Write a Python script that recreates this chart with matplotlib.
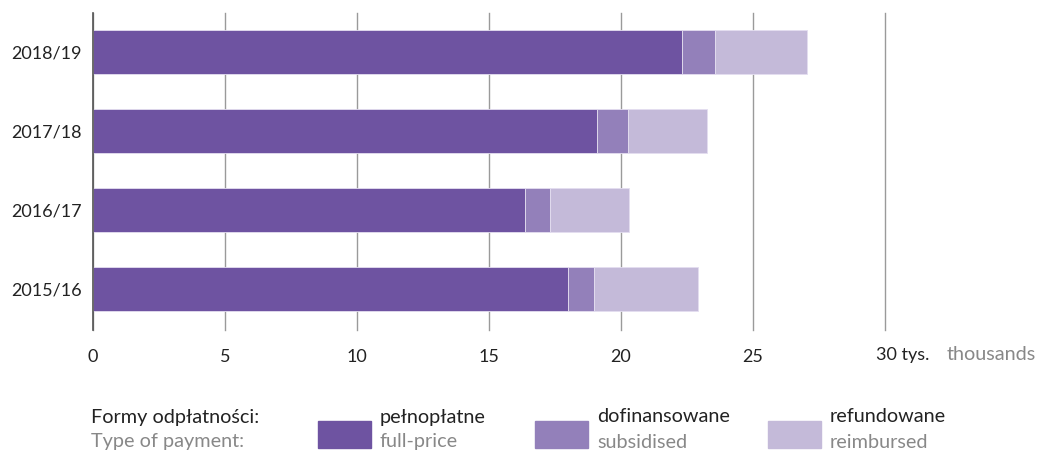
import matplotlib.pyplot as plt
import numpy as np

plt.rcParams['font.family'] = ['Lato', 'DejaVu Sans']

years = ['2015/16', '2016/17', '2017/18', '2018/19']
full_price = [18.0, 16.35, 19.1, 22.3]
subsidised = [0.98, 0.97, 1.15, 1.25]
reimbursed = [3.95, 3.0, 3.0, 3.5]

c_full = '#6e53a1'
c_sub = '#9380ba'
c_reim = '#c4bad9'

fig = plt.figure(figsize=(10.41, 4.53), dpi=100)
ax = fig.add_axes([93 / 1041, 1 - 330 / 453, (885 - 93) / 1041, (330 - 13) / 453])

y = np.arange(len(years))
h = 0.56
left = np.zeros(len(years))
for vals, col in [(full_price, c_full), (subsidised, c_sub), (reimbursed, c_reim)]:
    ax.barh(y, vals, height=h, left=left, color=col, edgecolor='#e4def0', linewidth=0.6, zorder=3)
    left = left + np.array(vals)

ax.set_xlim(0, 30)
ax.set_ylim(-0.52, 3.49)
ax.set_yticks(y)
ax.set_yticklabels(years, fontsize=13, color='#222222')
ax.set_xticks([0, 5, 10, 15, 20, 25, 30])
ax.set_xticklabels(['0', '5', '10', '15', '20', '25', ''], fontsize=13, color='#222222')
ax.tick_params(axis='both', length=0, pad=8)
ax.tick_params(axis='x', pad=14)
ax.xaxis.grid(True, color='#9a9a9a', linewidth=1.0, zorder=0)
for gl in ax.get_xgridlines():
    gl.set_clip_on(False)
for s in ['top', 'right', 'bottom']:
    ax.spines[s].set_visible(False)
ax.spines['left'].set_color('#555555')
ax.spines['left'].set_linewidth(1.2)
ax.spines['left'].set_zorder(4)

fig.text(876 / 1041, 1 - 355 / 453, '30 tys.', fontsize=13, color='#222222', va='center', ha='left')
fig.text(947 / 1041, 1 - 355 / 453, 'thousands', fontsize=14.3, color='#888888', va='center', ha='left')

# legend
fs = 14.3
fig.text(91 / 1041, 1 - 417 / 453, 'Formy odpłatności:', fontsize=fs, color='#222222', va='center')
fig.text(91 / 1041, 1 - 442 / 453, 'Type of payment:', fontsize=fs, color='#888888', va='center')
items = [(318, c_full, 'pełnopłatne', 'full-price'),
         (535, c_sub, 'dofinansowane', 'subsidised'),
         (768, c_reim, 'refundowane', 'reimbursed')]
for x0, col, pl, en in items:
    fig.patches.append(plt.Rectangle((x0 / 1041, 1 - 448 / 453), 53 / 1041, 27 / 453,
                                     transform=fig.transFigure, color=col, figure=fig))
    fig.text((x0 + 62) / 1041, 1 - 417 / 453, pl, fontsize=fs, color='#222222', va='center')
    fig.text((x0 + 62) / 1041, 1 - 442 / 453, en, fontsize=fs, color='#888888', va='center')

fig.savefig('out.png', dpi=100)
